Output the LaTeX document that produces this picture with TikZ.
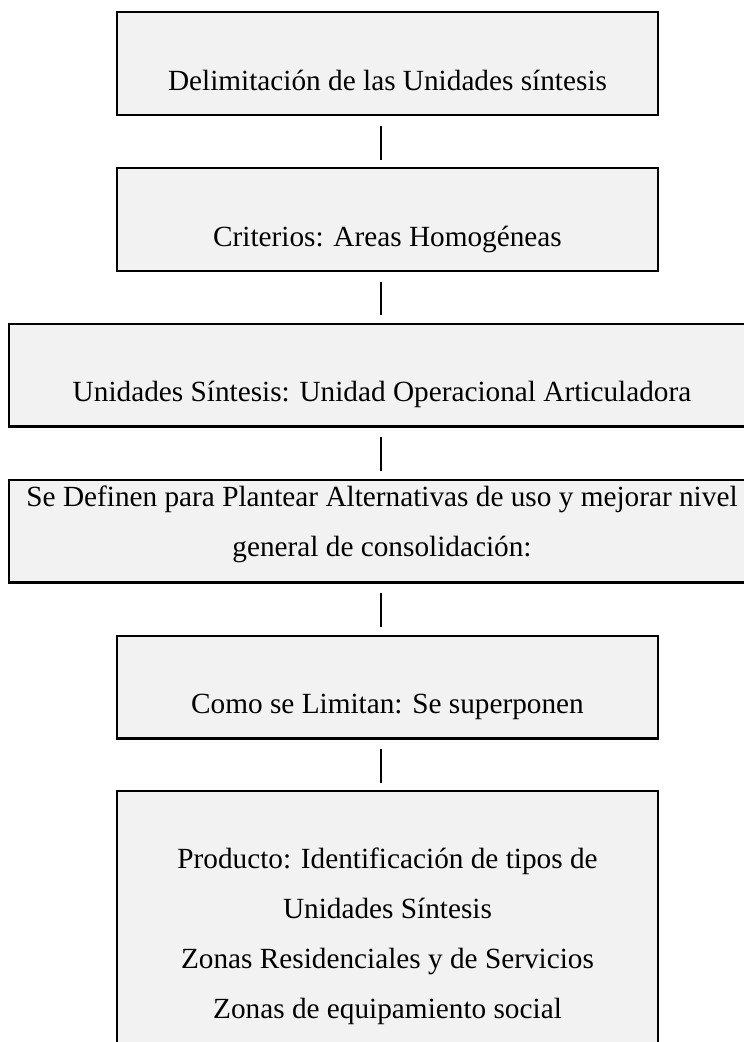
\documentclass[tikz,border=0pt]{standalone}
\usepackage{fontspec}
\setmainfont{Liberation Serif}
\usetikzlibrary{calc}

\definecolor{boxgray}{RGB}{242,242,242}

\tikzset{
  stage/.style={draw, rectangle, line width=0.85pt, fill=boxgray, inner sep=0pt},
  narrow/.style={stage, minimum width=221.8pt, minimum height=42.2pt},
  wide/.style={stage, minimum width=305.9pt, minimum height=42.2pt},
  txt/.style={font=\fontsize{12}{20.5}\selectfont, align=center, inner sep=0pt, anchor=base},
  link/.style={line width=0.55pt, shorten <=4pt, shorten >=3pt}
}

\begin{document}
\begin{tikzpicture}[x=0.41pt, y=-0.41pt]

\useasboundingbox (0,0) rectangle (744,1042);
\clip (0,0) rectangle (744,1042);

\coordinate (spine) at (381,0);

% boxes
  \node[narrow] (b1) at (387.5,63.5) {};
  \node[narrow] (b2) at (387.5,219.5) {};
  \node[wide] (b3) at (382,375) {};
  \node[wide] (b4) at (382,531) {};
  \node[narrow] (b5) at (387.5,687) {};
  \node[narrow, minimum height=118.5pt] (b6) at (387.5,935.5) {};

% texts (base = last line)
  \node[txt] (t1) at ($ (b1.north) + (0,79) $) {Delimitación de las Unidades síntesis};
  \node[txt] (t2) at ($ (b2.north) + (0,79) $) {Criterios: Areas Homogéneas};
  \node[txt] (t3) at ($ (b3.north) + (0,79) $) {Unidades Síntesis: Unidad Operacional Articuladora};
  \node[txt] (t4) at ($ (b4.north) + (0,78) $) {Se Definen para Plantear Alternativas de uso y mejorar nivel\\general de consolidación:};
  \node[txt] (t5) at ($ (b5.north) + (0,79) $) {Como se Limitan: Se superponen};
  \node[txt] (t6) at ($ (b6.north) + (0,229) $) {Producto: Identificación de tipos de\\Unidades Síntesis\\Zonas Residenciales y de Servicios\\Zonas de equipamiento social};

% connectors
  \draw[link] (b1.south -| spine) -- (b2.north -| spine);
  \draw[link] (b2.south -| spine) -- (b3.north -| spine);
  \draw[link] (b3.south -| spine) -- (b4.north -| spine);
  \draw[link] (b4.south -| spine) -- (b5.north -| spine);
  \draw[link] (b5.south -| spine) -- (b6.north -| spine);

\end{tikzpicture}
\end{document}
